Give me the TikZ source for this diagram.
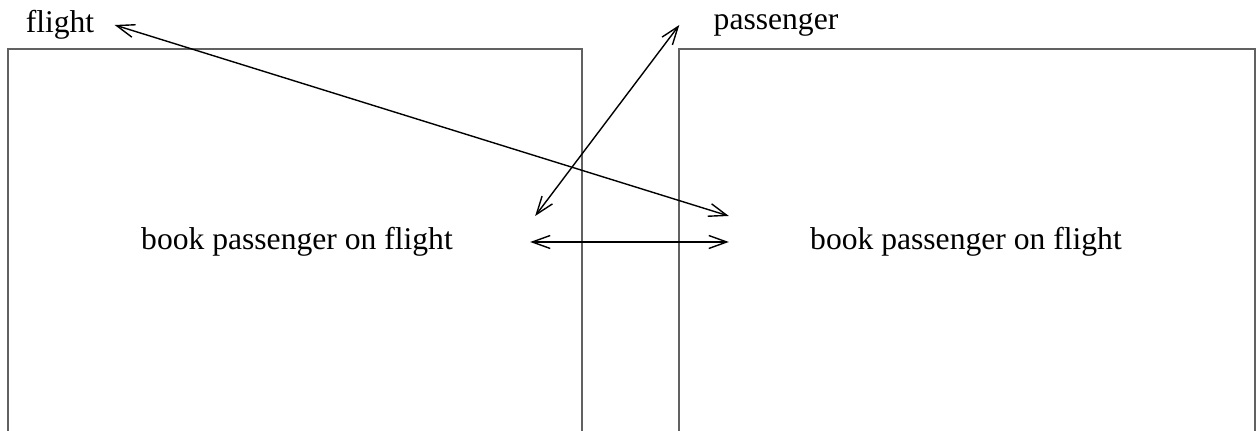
\documentclass[tikz,border=0pt]{standalone}
\usepackage{fontspec}
\setmainfont{Liberation Serif}
\usetikzlibrary{arrows.meta}
\tikzset{
  frame/.style={draw=black!62, line width=1pt},
  link/.style={line width=0.7pt, {Straight Barb[length=9pt,width=6.5pt]}-{Straight Barb[length=9pt,width=6.5pt]}},
  label/.style={font=\fontsize{15.8pt}{18pt}\selectfont}
}
\begin{document}
\begin{tikzpicture}[x=0.5pt, y=-0.5pt]
        \useasboundingbox (0,0) rectangle (1258,431);
        % Boxes
        \draw[frame] (8,431) -- (8,49) -- (582,49) -- (582,431);
        \draw[frame] (679,431) -- (679,49) -- (1255,49) -- (1255,431);

        % Labels
        \node[label, inner xsep=10pt] (flight) at (60,25) {flight};
        \node[label, inner xsep=17pt] (passenger) at (776,25) {passenger};
        \node[label, inner xsep=38.5pt] (bookL) at (297,242) {book passenger on flight};
        \node[label, inner xsep=40.5pt] (bookR) at (966,242) {book passenger on flight};

        % Arrows
        \draw[link] (flight.east) -- ([yshift=13pt]bookR.west);
        \draw[link] (passenger.west) -- ([xshift=2.5pt, yshift=13pt]bookL.east);
        \draw[link] (bookL.east) -- (bookR.west);
    \end{tikzpicture}
\end{document}
